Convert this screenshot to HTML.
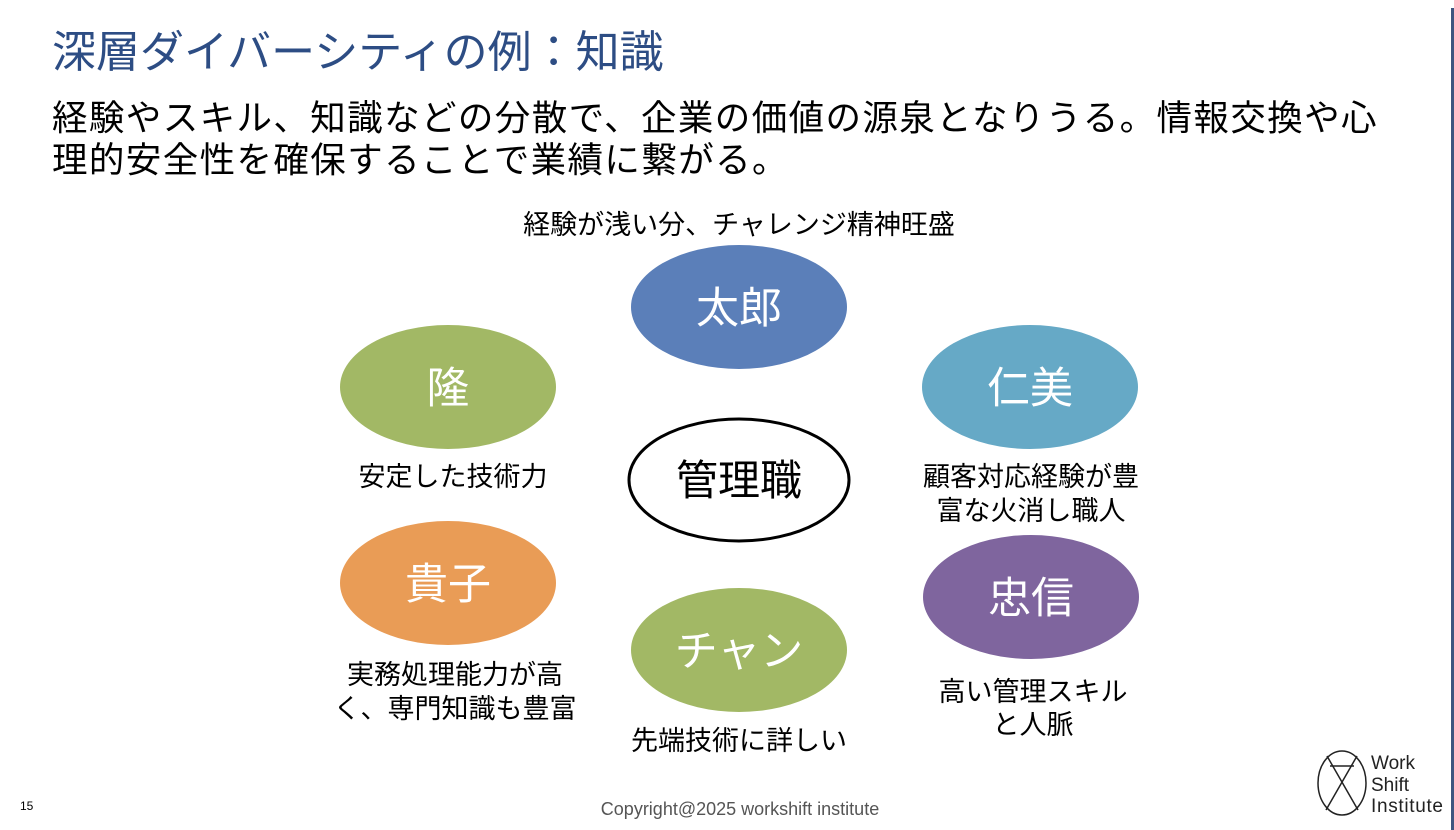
<!DOCTYPE html>
<html><head><meta charset="utf-8"><style>
html,body{margin:0;padding:0;background:#fff}
body{width:1454px;height:830px;position:relative;overflow:hidden;font-family:"Liberation Sans","Noto Sans CJK JP",sans-serif}
.t{position:absolute;white-space:nowrap}
</style></head><body>
<div style="position:absolute;left:1451px;top:8px;width:3px;height:822px;background:#3d5580"></div>
<div class="t" style="left:52px;top:27px;font-size:44px;color:#2d4d84;line-height:52px">深層ダイバーシティの例：知識</div>
<div class="t" style="left:52px;top:97px;font-size:35.5px;color:#000;line-height:42px;letter-spacing:1.4px">経験やスキル、知識などの分散で、企業の価値の源泉となりうる。情報交換や心<br>理的安全性を確保することで業績に繋がる。</div>
<svg width="1454" height="830" style="position:absolute;left:0;top:0" font-family="Liberation Sans, Noto Sans CJK JP, sans-serif">
<g text-anchor="middle">
<text x="739" y="234" font-size="27" fill="#000">経験が浅い分、チャレンジ精神旺盛</text>
<ellipse cx="739" cy="307" rx="108" ry="62" fill="#5b7fb9"/>
<text x="739" y="323" font-size="43" fill="#fff">太郎</text>
<ellipse cx="448" cy="387" rx="108" ry="62" fill="#a2b865"/>
<text x="448" y="403" font-size="43" fill="#fff">隆</text>
<ellipse cx="1030" cy="387" rx="108" ry="62" fill="#66a9c6"/>
<text x="1030" y="403" font-size="43" fill="#fff">仁美</text>
<ellipse cx="739" cy="480" rx="110" ry="61" fill="#fff" stroke="#000" stroke-width="3"/>
<text x="739" y="495" font-size="42" fill="#000">管理職</text>
<text x="453" y="486" font-size="27" fill="#000">安定した技術力</text>
<text x="1031" y="486" font-size="27" fill="#000">顧客対応経験が豊</text>
<text x="1031" y="520" font-size="27" fill="#000">富な火消し職人</text>
<ellipse cx="448" cy="583" rx="108" ry="62" fill="#e99c56"/>
<text x="448" y="599" font-size="43" fill="#fff">貴子</text>
<ellipse cx="1031" cy="597" rx="108" ry="62" fill="#7f659e"/>
<text x="1031" y="613" font-size="43" fill="#fff">忠信</text>
<ellipse cx="739" cy="650" rx="108" ry="62" fill="#a2b865"/>
<text x="739" y="666" font-size="43" fill="#fff">チャン</text>
<text x="455" y="684" font-size="27" fill="#000">実務処理能力が高</text>
<text x="455" y="718" font-size="27" fill="#000">く、専門知識も豊富</text>
<text x="739" y="750" font-size="27" fill="#000">先端技術に詳しい</text>
<text x="1033" y="701" font-size="27" fill="#000">高い管理スキル</text>
<text x="1033" y="734" font-size="27" fill="#000">と人脈</text>
<text x="740" y="815" font-size="18" fill="#555">Copyright@2025 workshift institute</text>
</g>
<text x="20" y="810" font-size="12" fill="#000">15</text>
<g stroke="#222" stroke-width="1.5" fill="none">
<ellipse cx="1342" cy="783" rx="24" ry="32"/>
<line x1="1327" y1="756" x2="1358" y2="810"/>
<line x1="1357" y1="756" x2="1326" y2="810"/>
<line x1="1330" y1="766" x2="1354" y2="766"/>
</g>
<text x="1371" y="769" font-size="19" fill="#222" textLength="44">Work</text>
<text x="1371" y="791" font-size="19" fill="#222">Shift</text>
<text x="1371" y="812" font-size="19" fill="#222" textLength="72">Institute</text>
</svg>
</body></html>
